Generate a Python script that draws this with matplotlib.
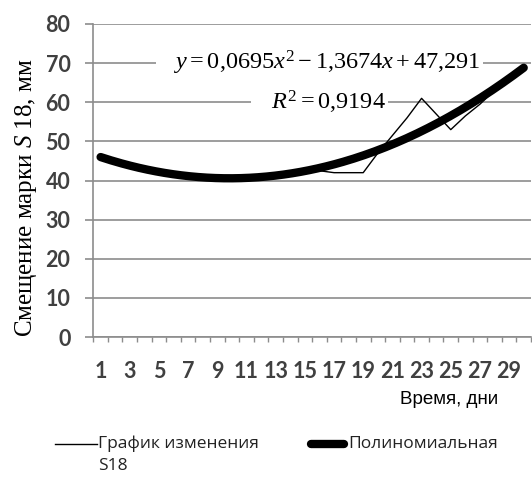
import numpy as np
import matplotlib.pyplot as plt
from matplotlib.lines import Line2D

plt.rcParams['mathtext.fontset'] = 'custom'
plt.rcParams['mathtext.rm'] = 'Liberation Serif'
plt.rcParams['mathtext.it'] = 'Liberation Serif:italic'

# data
days = list(range(1, 31))
s18 = [46, 45, 44, 43, 42, 41.5, 41, 41, 40.5, 40.5,
       40.5, 41, 41, 41.5, 42, 42.5, 42, 42, 42, 47,
       51.5, 56, 61, 57, 53, 56.5, 59.5, 63, 66, 69]
trend_coef = [0.0695, -1.3674, 47.291]   # y = a*x^2 + b*x + c, from the chart
r2 = 0.9194
y_ticks = [0, 10, 20, 30, 40, 50, 60, 70, 80]
x_labels = list(range(1, 30, 2))
series_name = 'График изменения\nS18'
trend_name = 'Полиномиальная'

grid_col = '#8c8c8c'
tick_font = dict(family='Lato', weight='bold', size=15.5)
leg_font = dict(family='Open Sans', size=12.5, color='#222222')

fig = plt.figure(figsize=(5.32, 4.82), dpi=100)
ax = fig.add_axes([93.3 / 532, 1 - 337 / 482, 437.7 / 532, 313 / 482])

# series
ax.plot(days, s18, color='black', lw=1.0, zorder=3)
xs = np.linspace(days[0], days[-1], 200)
ax.plot(xs, np.polyval(trend_coef, xs), color='black', lw=6,
        solid_capstyle='round', zorder=4)

# axes
ax.set_xlim(0.5, 30.5)
ax.set_ylim(0, 80)
ax.set_yticks(y_ticks)
ax.set_xticks(x_labels)
ax.set_xticks(np.arange(0.5, 31, 1), minor=True)
ax.yaxis.grid(True, color=grid_col, lw=1.2)
ax.set_axisbelow(True)
for s in ['top', 'right']:
    ax.spines[s].set_visible(False)
for s in ['left', 'bottom']:
    ax.spines[s].set_color(grid_col)
    ax.spines[s].set_linewidth(1.2)

ax.tick_params(axis='y', length=6, width=1.2, color=grid_col, pad=10.5,
               labelcolor='#404040')
ax.tick_params(axis='x', which='major', length=0, pad=17, labelcolor='#404040')
ax.tick_params(axis='x', which='minor', length=3.5, width=1, color=grid_col)
for lab in ax.get_xticklabels() + ax.get_yticklabels():
    lab.set_fontproperties(tick_font)

# trendline equation (white boxes hide the gridlines behind)
eq1 = r'$\quad y = 0{,}0695x^2 - 1{,}3674x + 47{,}291\quad$'
eq2 = r'$\quad R^2 = 0{,}9194\quad$'
box = dict(facecolor='white', edgecolor='none', pad=2)
ax.text(16, 70, eq1, ha='center', va='center', fontsize=17.5, zorder=2.5, bbox=box)
ax.text(16, 60, eq2, ha='center', va='center', fontsize=17.5, zorder=2.5, bbox=box)

# labels
ax.set_ylabel('Смещение марки $S$ $\\mathit{18}$, мм', fontsize=18,
              family='Liberation Serif', va='center')
ax.yaxis.set_label_coords(-0.154, 0.444)
ax.set_xlabel('Время, дни', fontsize=13.5, family='Liberation Sans',
              ha='right', va='center')
ax.xaxis.set_label_coords((498 - 93.3) / 437.7, (337 - 400) / 313)

# legend drawn by hand so the handles sit on the first text line
ly = 1 - 444 / 482
fig.add_artist(Line2D([55 / 532, 97 / 532], [ly, ly], color='black', lw=1.0))
fig.text(98 / 532, 1 - 436 / 482, series_name, va='top', ha='left',
         linespacing=1.5, **leg_font)
fig.add_artist(Line2D([311 / 532, 344 / 532], [ly, ly], color='black', lw=6,
                      solid_capstyle='round'))
fig.text(348 / 532, ly, trend_name, va='center', ha='left', **leg_font)

fig.savefig('out.png', dpi=100)
